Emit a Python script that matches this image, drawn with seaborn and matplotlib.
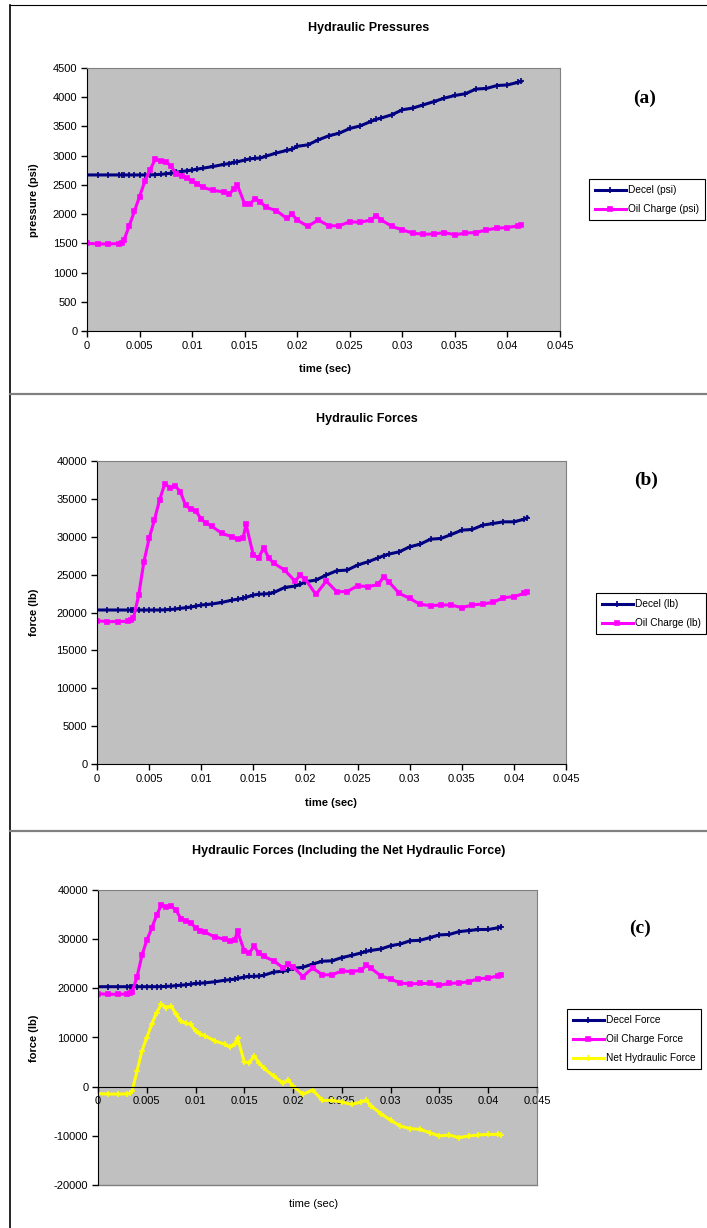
import matplotlib
matplotlib.use("Agg")
import matplotlib.pyplot as plt
import seaborn as sns
from matplotlib.lines import Line2D
from matplotlib.ticker import FuncFormatter, MultipleLocator

# sample times (sec)
time_s = [0, 0.001, 0.002, 0.003, 0.0033, 0.0035,
          0.004, 0.0045, 0.005, 0.0055, 0.006, 0.0065, 0.007, 0.0075, 0.008, 0.0085, 0.009, 0.0095, 0.010, 0.0105, 0.011,
          0.012, 0.013, 0.0135, 0.014, 0.0143, 0.015, 0.0155, 0.016, 0.0165, 0.017, 0.018, 0.019, 0.0195, 0.020,
          0.021, 0.022, 0.023, 0.024, 0.025, 0.026, 0.027, 0.0275, 0.028, 0.029, 0.030, 0.031, 0.032, 0.033, 0.034,
          0.035, 0.036, 0.037, 0.038, 0.039, 0.040, 0.041, 0.0413]

# (a) pressures
decel_psi = [2670, 2670, 2670, 2670, 2670, 2670,
             2670, 2670, 2670, 2670, 2670, 2675, 2680, 2690, 2700, 2715, 2730, 2740, 2755, 2770, 2785,
             2815, 2850, 2865, 2885, 2895, 2925, 2945, 2955, 2960, 2990, 3045, 3090, 3110, 3160,
             3185, 3270, 3340, 3385, 3465, 3510, 3585, 3620, 3645, 3700, 3785, 3815, 3870, 3925, 3985,
             4030, 4060, 4140, 4150, 4200, 4210, 4255, 4270]
oil_psi = [1500, 1490, 1490, 1495, 1510, 1550,
           1790, 2045, 2300, 2560, 2760, 2940, 2910, 2900, 2815, 2690, 2655, 2625, 2560, 2520, 2460,
           2405, 2380, 2345, 2425, 2500, 2175, 2175, 2265, 2215, 2120, 2060, 1930, 2000, 1900,
           1790, 1900, 1800, 1800, 1870, 1860, 1900, 1970, 1900, 1790, 1730, 1675, 1655, 1660, 1685,
           1645, 1675, 1685, 1730, 1760, 1770, 1800, 1815]

# (b), (c) forces
decel_lb = [20330, 20330, 20330, 20330, 20330, 20330,
            20330, 20330, 20330, 20330, 20330, 20350, 20400, 20450, 20550, 20640, 20720, 20850, 20990, 21050, 21120,
            21340, 21650, 21750, 21870, 22000, 22300, 22420, 22440, 22500, 22660, 23300, 23490, 23700, 24060,
            24280, 24940, 25510, 25600, 26260, 26700, 27220, 27500, 27710, 28010, 28670, 29020, 29680, 29770, 30300,
            30870, 30960, 31530, 31750, 31970, 31970, 32320, 32540]
oil_lb = [18900, 18800, 18800, 18850, 19000, 19320,
          22300, 26700, 29770, 32190, 34820, 37000, 36490, 36710, 35920, 34160, 33640, 33370, 32320, 31750, 31400,
          30430, 29990, 29640, 29770, 31620, 27580, 27220, 28540, 27140, 26480, 25600, 24150, 24940, 24370,
          22390, 24150, 22750, 22750, 23540, 23400, 23710, 24720, 24060, 22530, 21870, 21080, 20900, 20990, 20990,
          20640, 20990, 21120, 21340, 21960, 22090, 22530, 22660]
net_lb = [-1420, -1500, -1500, -1480, -1300, -880,
          3190, 7250, 9970, 12680, 15050, 16750, 16070, 16410, 14710, 13360, 12880, 12680, 11320, 10700, 10300,
          9290, 8610, 8070, 8610, 9970, 5020, 4880, 6240, 4880, 3730, 2170, 680, 1360, 140,
          -1560, -680, -2780, -2800, -3120, -3590, -3120, -2780, -3930, -5490, -6850, -8000, -8540, -8680, -9360,
          -10030, -9830, -10370, -10030, -9830, -9700, -9700, -9830]

NAVY, MAGENTA, YELLOW = "#000080", "#FF00FF", "#FFFF00"
W, H = 707, 1228

plt.rcParams['font.family'] = ['Liberation Sans', 'DejaVu Sans']

fig = plt.figure(figsize=(W / 100, H / 100), dpi=100)
fig.patch.set_facecolor("white")


def fx(x):
    return x / W


def fy(y):
    return 1 - y / H


def make_axes(left, right, top, bottom):
    return fig.add_axes([fx(left), fy(bottom), (right - left) / W, (bottom - top) / H])


def style(ax, ymin, ymax, ystep):
    ax.set_facecolor("#C0C0C0")
    ax.set_xlim(0, 0.045)
    ax.set_ylim(ymin, ymax)
    ax.xaxis.set_major_locator(MultipleLocator(0.005))
    ax.yaxis.set_major_locator(MultipleLocator(ystep))
    ax.xaxis.set_major_formatter(FuncFormatter(lambda v, p: "0" if abs(v) < 1e-9 else f"{v:g}"))
    ax.yaxis.set_major_formatter(FuncFormatter(lambda v, p: f"{v:.0f}"))
    ax.tick_params(direction="out", length=4, width=1, labelsize=8, colors="black", pad=3)
    for s in ["top", "right"]:
        ax.spines[s].set_color("#808080")
    for s in ["left", "bottom"]:
        ax.spines[s].set_color("black")
    ax.set_xlabel("")
    ax.set_ylabel("")


def add_legend(ax, x, y):
    leg = ax.legend(loc="upper left", bbox_to_anchor=(fx(x), fy(y)), bbox_transform=fig.transFigure,
                    frameon=True, fancybox=False, edgecolor="black", framealpha=1, fontsize=7.3,
                    handlelength=3, handletextpad=0.2, borderpad=0.6, labelspacing=0.9, borderaxespad=0)
    leg.get_frame().set_linewidth(0.8)


def series(ax, y, color, marker, label):
    size = 4.5 if marker == "+" else 3
    sns.lineplot(x=time_s, y=y, ax=ax, color=color, marker=marker, markersize=size,
                 markeredgecolor=color, markerfacecolor=color, markeredgewidth=1.2,
                 linewidth=2.2, estimator=None, label=label)


# ---- (a) Hydraulic Pressures
ax1 = make_axes(87, 560, 68, 331)
series(ax1, decel_psi, NAVY, "+", "Decel (psi)")
series(ax1, oil_psi, MAGENTA, "s", "Oil Charge (psi)")
style(ax1, 0, 4500, 500)
add_legend(ax1, 589, 179)
fig.text(fx(369), fy(28), "Hydraulic Pressures", ha="center", va="center", fontsize=9, fontweight="bold")
fig.text(fx(34), fy(200), "pressure (psi)", rotation=90, ha="center", va="center", fontsize=8, fontweight="bold")
fig.text(fx(325), fy(369), "time (sec)", ha="center", va="center", fontsize=8, fontweight="bold")
fig.text(fx(645), fy(98), "(a)", ha="center", va="center", fontsize=14, fontweight="bold",
         family=["Liberation Serif", "DejaVu Serif"])

# ---- (b) Hydraulic Forces
ax2 = make_axes(97, 566, 461, 764)
series(ax2, decel_lb, NAVY, "+", "Decel (lb)")
series(ax2, oil_lb, MAGENTA, "s", "Oil Charge (lb)")
style(ax2, 0, 40000, 5000)
add_legend(ax2, 596, 593)
fig.text(fx(367), fy(419), "Hydraulic Forces", ha="center", va="center", fontsize=9, fontweight="bold")
fig.text(fx(34), fy(612), "force (lb)", rotation=90, ha="center", va="center", fontsize=8, fontweight="bold")
fig.text(fx(331), fy(803), "time (sec)", ha="center", va="center", fontsize=8, fontweight="bold")
fig.text(fx(646), fy(480), "(b)", ha="center", va="center", fontsize=14, fontweight="bold",
         family=["Liberation Serif", "DejaVu Serif"])

# ---- (c) Hydraulic Forces incl. net
ax3 = make_axes(98, 537, 890, 1185)
series(ax3, decel_lb, NAVY, "+", "Decel Force")
series(ax3, oil_lb, MAGENTA, "s", "Oil Charge Force")
series(ax3, net_lb, YELLOW, "+", "Net Hydraulic Force")
style(ax3, -20000, 40000, 10000)
ax3.spines["bottom"].set_position(("data", 0))
ax3.add_line(Line2D([0, 1], [0, 0], transform=ax3.transAxes, color="#808080", lw=1, clip_on=False))
ax3.set_axisbelow(True)
add_legend(ax3, 567, 1009)
fig.text(fx(349), fy(851), "Hydraulic Forces (Including the Net Hydraulic Force)", ha="center", va="center",
         fontsize=9, fontweight="bold")
fig.text(fx(34), fy(1038), "force (lb)", rotation=90, ha="center", va="center", fontsize=8, fontweight="bold")
fig.text(fx(314), fy(1204), "time (sec)", ha="center", va="center", fontsize=8)
fig.text(fx(640), fy(928), "(c)", ha="center", va="center", fontsize=14, fontweight="bold",
         family=["Liberation Serif", "DejaVu Serif"])

# panel frames
fig.add_artist(Line2D([fx(10), fx(10)], [fy(5), 0], color="black", lw=1.2))
fig.add_artist(Line2D([fx(10), 1], [fy(5), fy(5)], color="black", lw=0.8))
for ysep in (394, 831):
    fig.add_artist(Line2D([fx(10), 1], [fy(ysep), fy(ysep)], color="#808080", lw=1.6))

fig.savefig("out.png", dpi=100)
